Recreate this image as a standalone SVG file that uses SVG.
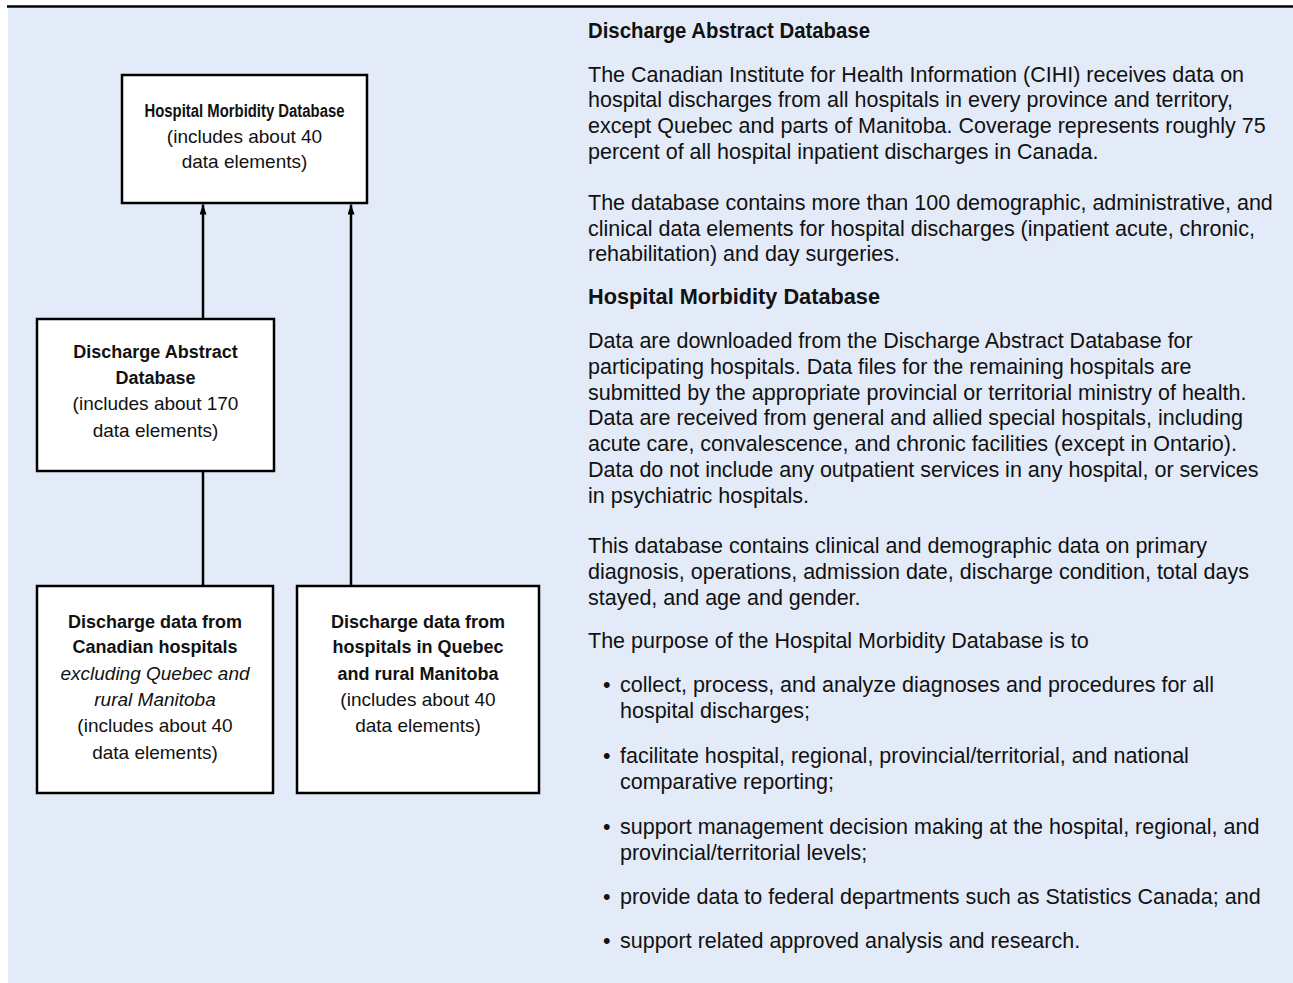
<svg xmlns="http://www.w3.org/2000/svg" width="1293" height="983" viewBox="0 0 1293 983">
<defs>
<marker id="arr" viewBox="0 0 10 7" refX="10" refY="3.5" markerWidth="10" markerHeight="7" markerUnits="userSpaceOnUse" orient="auto">
<path d="M0,0 L10,3.5 L0,7 Z" fill="#000"/>
</marker>
<style>
text{font-family:"Liberation Sans",Arial,sans-serif;font-size:19px;fill:#111;}
.c{text-anchor:middle;}
.b{font-weight:bold;font-size:18px;}
.i{font-style:italic;}
.r{font-size:21.5px;}
.box{fill:#fff;stroke:#000;stroke-width:2.5;}
.ln{stroke:#000;stroke-width:2.5;fill:none;}
</style>
</defs>
<rect x="8" y="8" width="1285" height="975" fill="#e4ebf8"/>
<line x1="7" y1="6.5" x2="1293" y2="6.5" stroke="#000" stroke-width="2.5"/>

<g id="connectors">
<line class="ln" x1="203" y1="319" x2="203" y2="204.5" marker-end="url(#arr)"/>
<line class="ln" x1="351" y1="586" x2="351" y2="204.5" marker-end="url(#arr)"/>
<line class="ln" x1="203" y1="586" x2="203" y2="471"/>
</g>

<g id="hmdb">
<rect class="box" x="122" y="75" width="245" height="128"/>
<text class="c b" x="244.5" y="117" textLength="200" lengthAdjust="spacingAndGlyphs">Hospital Morbidity Database</text>
<text class="c" x="244.5" y="143">(includes about 40</text>
<text class="c" x="244.5" y="168">data elements)</text>
</g>

<g id="dad">
<rect class="box" x="37" y="319" width="237" height="152"/>
<text class="c b" x="155.5" y="358">Discharge Abstract</text>
<text class="c b" x="155.5" y="384">Database</text>
<text class="c" x="155.5" y="410">(includes about 170</text>
<text class="c" x="155.5" y="437">data elements)</text>
</g>

<g id="canada">
<rect class="box" x="37" y="586" width="236" height="207"/>
<text class="c b" x="155" y="628">Discharge data from</text>
<text class="c b" x="155" y="653">Canadian hospitals</text>
<text class="c i" x="155" y="680">excluding Quebec and</text>
<text class="c i" x="155" y="706">rural Manitoba</text>
<text class="c" x="155" y="732">(includes about 40</text>
<text class="c" x="155" y="759">data elements)</text>
</g>

<g id="quebec">
<rect class="box" x="297" y="586" width="242" height="207"/>
<text class="c b" x="418" y="628">Discharge data from</text>
<text class="c b" x="418" y="653">hospitals in Quebec</text>
<text class="c b" x="418" y="680">and rural Manitoba</text>
<text class="c" x="418" y="706">(includes about 40</text>
<text class="c" x="418" y="732">data elements)</text>
</g>

<g id="description">
<text class="r b" x="588" y="38" style="font-size:21.5px" textLength="282" lengthAdjust="spacingAndGlyphs">Discharge Abstract Database</text>
<text class="r" x="588" y="82">The Canadian Institute for Health Information (CIHI) receives data on</text>
<text class="r" x="588" y="107">hospital discharges from all hospitals in every province and territory,</text>
<text class="r" x="588" y="133">except Quebec and parts of Manitoba. Coverage represents roughly 75</text>
<text class="r" x="588" y="159">percent of all hospital inpatient discharges in Canada.</text>
<text class="r" x="588" y="210">The database contains more than 100 demographic, administrative, and</text>
<text class="r" x="588" y="236">clinical data elements for hospital discharges (inpatient acute, chronic,</text>
<text class="r" x="588" y="261">rehabilitation) and day surgeries.</text>
<text class="r b" x="588" y="304" style="font-size:21.5px" textLength="292" lengthAdjust="spacingAndGlyphs">Hospital Morbidity Database</text>
<text class="r" x="588" y="348">Data are downloaded from the Discharge Abstract Database for</text>
<text class="r" x="588" y="374">participating hospitals. Data files for the remaining hospitals are</text>
<text class="r" x="588" y="400">submitted by the appropriate provincial or territorial ministry of health.</text>
<text class="r" x="588" y="425">Data are received from general and allied special hospitals, including</text>
<text class="r" x="588" y="451">acute care, convalescence, and chronic facilities (except in Ontario).</text>
<text class="r" x="588" y="477">Data do not include any outpatient services in any hospital, or services</text>
<text class="r" x="588" y="503">in psychiatric hospitals.</text>
<text class="r" x="588" y="553">This database contains clinical and demographic data on primary</text>
<text class="r" x="588" y="579">diagnosis, operations, admission date, discharge condition, total days</text>
<text class="r" x="588" y="605">stayed, and age and gender.</text>
<text class="r" x="588" y="648">The purpose of the Hospital Morbidity Database is to</text>
<text class="r" x="603" y="692">•</text><text class="r" x="620" y="692">collect, process, and analyze diagnoses and procedures for all</text>
<text class="r" x="620" y="718">hospital discharges;</text>
<text class="r" x="603" y="763">•</text><text class="r" x="620" y="763">facilitate hospital, regional, provincial/territorial, and national</text>
<text class="r" x="620" y="789">comparative reporting;</text>
<text class="r" x="603" y="834">•</text><text class="r" x="620" y="834">support management decision making at the hospital, regional, and</text>
<text class="r" x="620" y="860">provincial/territorial levels;</text>
<text class="r" x="603" y="904">•</text><text class="r" x="620" y="904">provide data to federal departments such as Statistics Canada; and</text>
<text class="r" x="603" y="948">•</text><text class="r" x="620" y="948">support related approved analysis and research.</text>
</g>
</svg>
